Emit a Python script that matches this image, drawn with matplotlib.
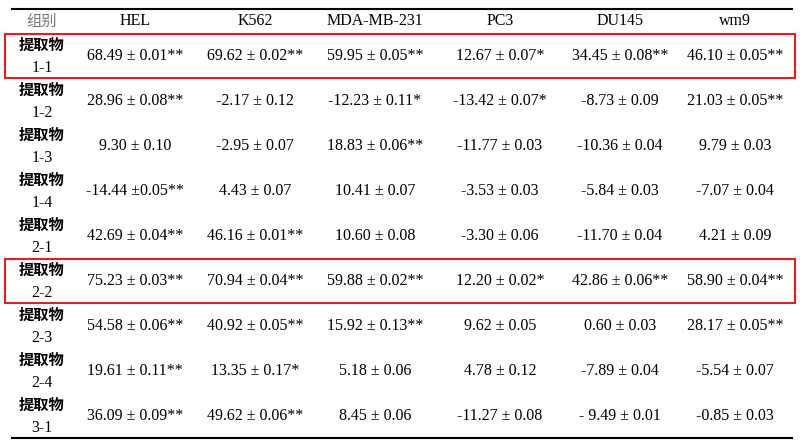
import matplotlib.pyplot as plt
from matplotlib.patches import Rectangle

headers = ["HEL", "K562", "MDA-MB-231", "PC3", "DU145", "wm9"]
groups = ["1-1", "1-2", "1-3", "1-4", "2-1", "2-2", "2-3", "2-4", "3-1"]
cells = [
    ["68.49 ± 0.01**", "69.62 ± 0.02**", "59.95 ± 0.05**", "12.67 ± 0.07*", "34.45 ± 0.08**", "46.10 ± 0.05**"],
    ["28.96 ± 0.08**", "-2.17 ± 0.12", "-12.23 ± 0.11*", "-13.42 ± 0.07*", "-8.73 ± 0.09", "21.03 ± 0.05**"],
    ["9.30 ± 0.10", "-2.95 ± 0.07", "18.83 ± 0.06**", "-11.77 ± 0.03", "-10.36 ± 0.04", "9.79 ± 0.03"],
    ["-14.44 ±0.05**", "4.43 ± 0.07", "10.41 ± 0.07", "-3.53 ± 0.03", "-5.84 ± 0.03", "-7.07 ± 0.04"],
    ["42.69 ± 0.04**", "46.16 ± 0.01**", "10.60 ± 0.08", "-3.30 ± 0.06", "-11.70 ± 0.04", "4.21 ± 0.09"],
    ["75.23 ± 0.03**", "70.94 ± 0.04**", "59.88 ± 0.02**", "12.20 ± 0.02*", "42.86 ± 0.06**", "58.90 ± 0.04**"],
    ["54.58 ± 0.06**", "40.92 ± 0.05**", "15.92 ± 0.13**", "9.62 ± 0.05", "0.60 ± 0.03", "28.17 ± 0.05**"],
    ["19.61 ± 0.11**", "13.35 ± 0.17*", "5.18 ± 0.06", "4.78 ± 0.12", "-7.89 ± 0.04", "-5.54 ± 0.07"],
    ["36.09 ± 0.09**", "49.62 ± 0.06**", "8.45 ± 0.06", "-11.27 ± 0.08", "- 9.49 ± 0.01", "-0.85 ± 0.03"],
]
highlight = ["1-1", "2-2"]

fig = plt.figure(figsize=(8, 4.45), dpi=100)
ax = fig.add_axes([0, 0, 1, 1])
ax.set_xlim(0, 800)
ax.set_ylim(445, 0)
ax.axis("off")

col_x = [42, 135, 255, 375, 500, 620, 735]
serif = "Liberation Serif"
cjk = "Noto Sans CJK SC"

ax.plot([12, 792], [9, 9], color="black", lw=1.5)
ax.plot([12, 792], [438, 438], color="black", lw=1.5)

ax.text(col_x[0], 21, "组别", ha="center", va="center", fontsize=11, family=cjk, color="#777777")
for x, h in zip(col_x[1:], headers):
    ax.text(x, 21, h, ha="center", va="center", fontsize=11.5, family=serif)

for i, (g, row) in enumerate(zip(groups, cells)):
    yc = 56 + i * 45
    ax.text(col_x[0], yc - 11, "提取物", ha="center", va="center", fontsize=11, family=cjk, weight="bold")
    ax.text(col_x[0], yc + 12, g, ha="center", va="center", fontsize=11.5, family=serif)
    for x, c in zip(col_x[1:], row):
        ax.text(x, yc, c, ha="center", va="center", fontsize=11.5, family=serif)
    if g in highlight:
        ax.add_patch(Rectangle((5, yc - 22), 790, 44, fill=False, edgecolor="#e02020", lw=1.5))

fig.savefig("out.png", dpi=100)
